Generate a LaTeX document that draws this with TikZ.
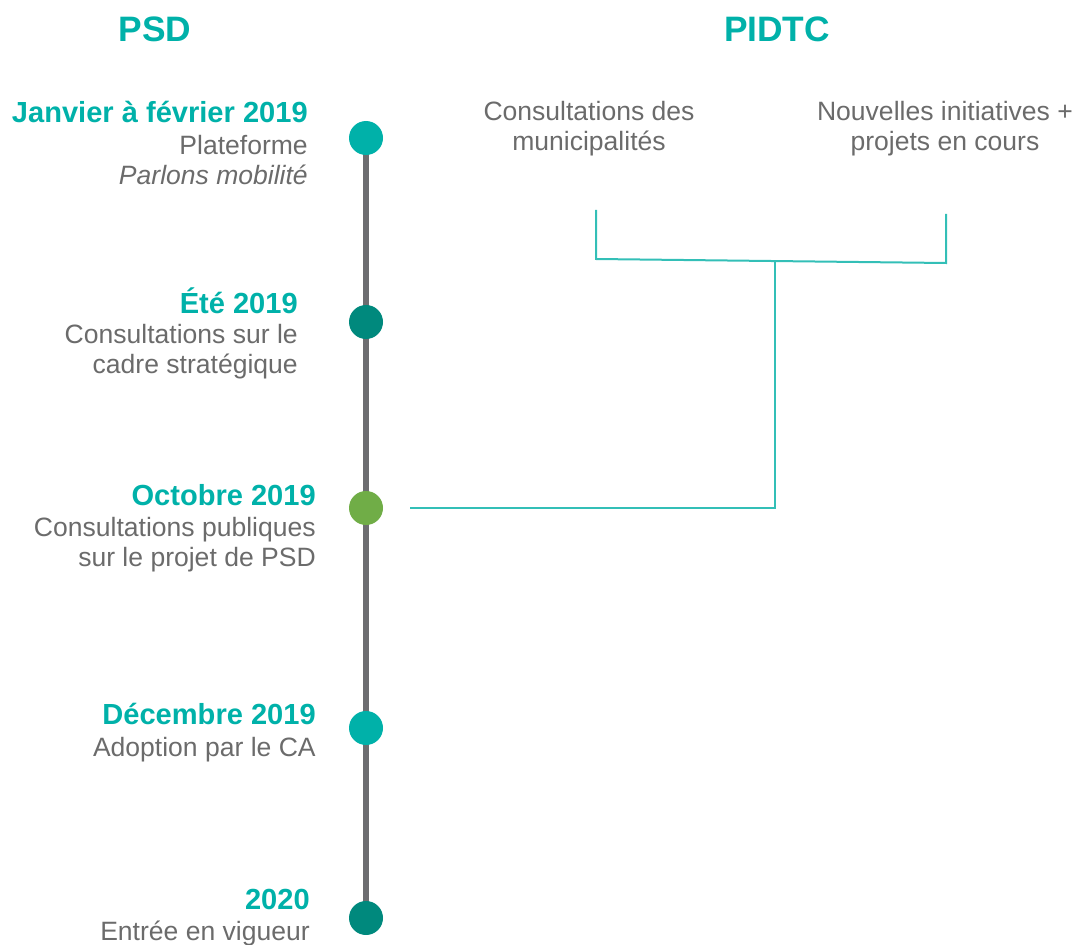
\documentclass[tikz,border=0pt]{standalone}
\usepackage{fontspec}
\setmainfont{Liberation Sans}
\usetikzlibrary{backgrounds}
\definecolor{tealA}{HTML}{00B1A9}
\definecolor{tealB}{HTML}{00897D}
\definecolor{leaf}{HTML}{70AD47}
\definecolor{txtgray}{HTML}{6B6B6B}
\definecolor{axisgray}{HTML}{6D6D70}
\definecolor{brk}{HTML}{33BFB7}
\tikzset{
  titletxt/.style={font=\fontsize{26.5}{30}\selectfont\bfseries, text=tealA, inner sep=0, anchor=base},
  datelbl/.style={font=\fontsize{21.8}{26}\selectfont\bfseries, text=tealA, inner sep=0, anchor=base east},
  desc/.style={font=\fontsize{19.9}{22.5}\selectfont, text=txtgray, inner sep=0, anchor=base east},
  ctext/.style={font=\fontsize{19.9}{22.5}\selectfont, text=txtgray, inner sep=0, anchor=base},
  dot/.style={circle, minimum size=25.5pt, inner sep=0, draw=none},
  brkline/.style={draw=brk, line width=1.5pt},
  axisline/.style={draw=axisgray, line width=4.5pt}
}
\begin{document}
\begin{tikzpicture}[x=0.75pt, y=-0.75pt]
\useasboundingbox (0,0) rectangle (1075,945);
% titles
\node[titletxt] (tpsd) at (155,42) {PSD};
\node[titletxt] (tpidtc) at (777,42) {PIDTC};
% dots
\node[dot, fill=tealA] (c1) at (366,138) {};
\node[dot, fill=tealB] (c2) at (366,322) {};
\node[dot, fill=leaf] (c3) at (366,508) {};
\node[dot, fill=tealA] (c4) at (366,728) {};
\node[dot, fill=tealB] (c5) at (366,918) {};
\begin{scope}[on background layer]
\draw[axisline] (c1.center) -- (c5.center);
\end{scope}
% left texts
\node[datelbl] (d1) at (308,123) {Janvier à février 2019};
\node[desc] (d1a) at (308,155) {Plateforme};
\node[desc] (d1b) at (308,185) {\itshape Parlons mobilité};
\node[datelbl] (d2) at (298,313) {Été 2019};
\node[desc] (d2a) at (298,343) {Consultations sur le};
\node[desc] (d2b) at (298,373) {cadre stratégique};
\node[datelbl] (d3) at (316,505) {Octobre 2019};
\node[desc] (d3a) at (316,536) {Consultations publiques};
\node[desc] (d3b) at (316,566) {sur le projet de PSD};
\node[datelbl] (d4) at (316,724) {Décembre 2019};
\node[desc] (d4a) at (316,756) {Adoption par le CA};
\node[datelbl] (d5) at (310,909) {2020};
\node[desc] (d5a) at (310,940) {Entrée en vigueur};
% right texts
\node[ctext] (m1) at (589,121) {Consultations des};
\node[ctext] (m2) at (589,151) {municipalités};
\node[ctext] (n1) at (945,121) {Nouvelles initiatives +};
\node[ctext] (n2) at (945,151) {projets en cours};
% bracket
\coordinate (bl) at (596,210);
\coordinate (blb) at (596,259);
\coordinate (br) at (946,214);
\coordinate (brb) at (946,263);
\coordinate (bm) at (775,261);
\coordinate (bend) at (775,508);
\coordinate (bfree) at (410,508);
\draw[brkline] (bl) -- (blb) -- (brb) -- (br);
\draw[brkline] (bm) -- (bend) -- (bfree);
\end{tikzpicture}
\end{document}
